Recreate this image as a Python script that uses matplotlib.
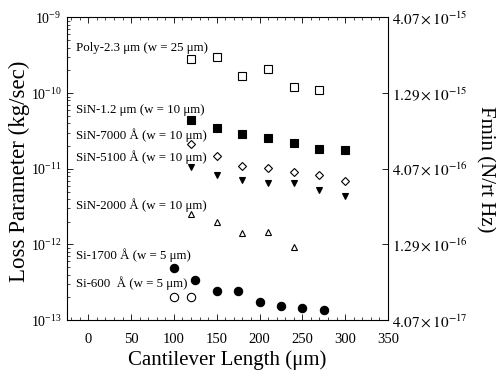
import matplotlib
matplotlib.use("Agg")
import matplotlib.pyplot as plt
from matplotlib.ticker import FixedLocator, NullLocator, MultipleLocator

plt.rcParams['font.family'] = ['Liberation Serif', 'DejaVu Serif']
plt.rcParams['mathtext.fontset'] = 'stix'

# Data (cantilever length in um, loss parameter in kg/sec)
poly_x = [120, 150, 180, 210, 240, 270]
poly_y = [2.8e-10, 3.0e-10, 1.7e-10, 2.1e-10, 1.19e-10, 1.1e-10]

sin12_x = [120, 150, 180, 210, 240, 270, 300]
sin12_y = [4.4e-11, 3.47e-11, 2.84e-11, 2.53e-11, 2.16e-11, 1.8e-11, 1.76e-11]

sin7000_x = [120, 150, 180, 210, 240, 270, 300]
sin7000_y = [2.11e-11, 1.48e-11, 1.09e-11, 1.02e-11, 9.0e-12, 8.2e-12, 6.9e-12]

sin5100_x = [120, 150, 180, 210, 240, 270, 300]
sin5100_y = [1.06e-11, 8.4e-12, 7.05e-12, 6.4e-12, 6.5e-12, 5.3e-12, 4.37e-12]

sin2000_x = [120, 150, 180, 210, 240]
sin2000_y = [2.5e-12, 2.0e-12, 1.41e-12, 1.47e-12, 9.4e-13]

si1700_x = [100, 125, 150, 175, 200, 225, 250, 275]
si1700_y = [4.9e-13, 3.43e-13, 2.4e-13, 2.4e-13, 1.72e-13, 1.56e-13, 1.45e-13, 1.36e-13]

si600_x = [100, 120]
si600_y = [2.05e-13, 2.05e-13]

labels = ["Poly-2.3 μm (w = 25 μm)",
          "SiN-1.2 μm (w = 10 μm)",
          "SiN-7000 Å (w = 10 μm)",
          "SiN-5100 Å (w = 10 μm)",
          "SiN-2000 Å (w = 10 μm)",
          "Si-1700 Å (w = 5 μm)",
          "Si-600  Å (w = 5 μm)"]
label_y = [3.95e-10, 5.96e-11, 2.78e-11, 1.42e-11, 3.29e-12, 7.15e-13, 3.04e-13]

right_ticks = [4.07e-17, 1.29e-16, 4.07e-16, 1.29e-15, 4.07e-15]
right_labels = [r'$4.07\times10^{-17}$', r'$1.29\times10^{-16}$', r'$4.07\times10^{-16}$',
                r'$1.29\times10^{-15}$', r'$4.07\times10^{-15}$']

fig = plt.figure(figsize=(4.96, 3.78), dpi=100)
ax = fig.add_axes([0.135, 0.153, 0.647, 0.801])

k = dict(color='black', linestyle='none', markeredgecolor='black', markeredgewidth=0.8)
ax.plot(poly_x, poly_y, marker='s', markersize=6, markerfacecolor='white', **k)
ax.plot(sin12_x, sin12_y, marker='s', markersize=6, markerfacecolor='black', **k)
ax.plot(sin7000_x, sin7000_y, marker='D', markersize=4, markerfacecolor='white', **k)
ax.plot(sin5100_x, sin5100_y, marker='v', markersize=5, markerfacecolor='black', **k)
ax.plot(sin2000_x, sin2000_y, marker='^', markersize=5, markerfacecolor='white', **k)
ax.plot(si1700_x, si1700_y, marker='o', markersize=6, markerfacecolor='black', **k)
ax.plot(si600_x, si600_y, marker='o', markersize=6, markerfacecolor='white', **k)

ax.set_yscale('log')
ax.set_ylim(1e-13, 1e-9)
ax.set_xlim(-25, 350)
ax.xaxis.set_major_locator(MultipleLocator(50))
ax.xaxis.set_minor_locator(MultipleLocator(10))

for t, yv in zip(labels, label_y):
    ax.text(-14, yv, t, fontsize=9.3, va='center', ha='left')

ax.tick_params(which='both', direction='in', top=True, right=False)
ax.tick_params(axis='x', labelsize=10.5, pad=9)
ax.tick_params(axis='y', labelsize=10, pad=4)
ax.tick_params(which='major', length=4, width=0.6)
ax.tick_params(which='minor', length=2, width=0.5)
for s in ax.spines.values():
    s.set_linewidth(0.7)

ax.set_xlabel('Cantilever Length (μm)', fontsize=15)
ax.xaxis.set_label_coords(0.5, -0.1)
ax.set_ylabel('Loss Parameter (kg/sec)', fontsize=16.5)
ax.yaxis.set_label_coords(-0.115, 0.49)

ax2 = ax.twinx()
ax2.set_yscale('log')
ax2.set_ylim(4.07e-17, 4.07e-15)
ax2.yaxis.set_major_locator(FixedLocator(right_ticks))
ax2.yaxis.set_minor_locator(NullLocator())
ax2.set_yticklabels(right_labels)
ax2.tick_params(which='both', direction='in', labelsize=11, length=4, width=0.6, pad=3)
ax2.set_ylabel('Fmin (N/rt Hz)', fontsize=15, rotation=270, labelpad=19)

fig.savefig('out.png', dpi=100)
